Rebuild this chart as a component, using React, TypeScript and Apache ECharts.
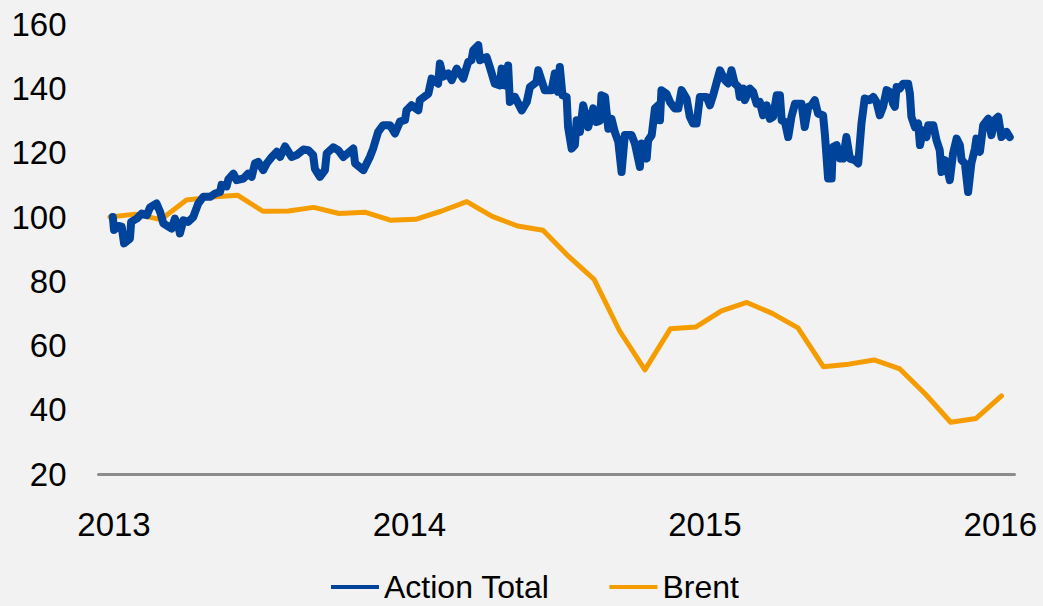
import React, { useEffect, useRef } from "react";
import * as echarts from "echarts";

const yearTicks = [2013, 2014, 2015, 2016];
const yTicks = [20, 40, 60, 80, 100, 120, 140, 160];

const seriesNames = ["Action Total", "Brent"];

// Action Total (index, base 100) - [decimal year, value]
const actionTotalYears = [
  2012.996, 2013.0, 2013.015, 2013.026, 2013.034, 2013.054, 2013.058, 2013.077, 2013.094, 2013.111,
  2013.122, 2013.144, 2013.156, 2013.167, 2013.184, 2013.195, 2013.206, 2013.218, 2013.223, 2013.235,
  2013.251, 2013.268, 2013.285, 2013.302, 2013.325, 2013.342, 2013.359, 2013.364, 2013.381, 2013.387,
  2013.404, 2013.415, 2013.438, 2013.454, 2013.466, 2013.477, 2013.488, 2013.505, 2013.517, 2013.534,
  2013.551, 2013.562, 2013.579, 2013.601, 2013.618, 2013.641, 2013.658, 2013.674, 2013.68, 2013.697,
  2013.714, 2013.72, 2013.742, 2013.759, 2013.776, 2013.81, 2013.816, 2013.844, 2013.866, 2013.877,
  2013.894, 2013.911, 2013.934, 2013.951, 2013.968, 2013.985, 2013.99, 2014.007, 2014.03, 2014.035,
  2014.064, 2014.075, 2014.097, 2014.103, 2014.114, 2014.131, 2014.143, 2014.16, 2014.182, 2014.199,
  2014.21, 2014.216, 2014.233, 2014.239, 2014.261, 2014.272, 2014.289, 2014.306, 2014.312, 2014.323,
  2014.334, 2014.34, 2014.357, 2014.38, 2014.397, 2014.408, 2014.43, 2014.436, 2014.458, 2014.481,
  2014.492, 2014.503, 2014.509, 2014.518, 2014.532, 2014.537, 2014.549, 2014.56, 2014.566, 2014.577,
  2014.588, 2014.605, 2014.622, 2014.633, 2014.645, 2014.65, 2014.662, 2014.673, 2014.684, 2014.695,
  2014.707, 2014.718, 2014.729, 2014.752, 2014.763, 2014.78, 2014.786, 2014.803, 2014.808, 2014.82,
  2014.831, 2014.842, 2014.848, 2014.853, 2014.87, 2014.882, 2014.898, 2014.91, 2014.921, 2014.938,
  2014.949, 2014.96, 2014.972, 2014.983, 2015.006, 2015.017, 2015.028, 2015.04, 2015.051, 2015.068,
  2015.079, 2015.09, 2015.101, 2015.113, 2015.118, 2015.13, 2015.135, 2015.152, 2015.163, 2015.175,
  2015.186, 2015.197, 2015.209, 2015.22, 2015.231, 2015.243, 2015.254, 2015.26, 2015.271, 2015.282,
  2015.293, 2015.305, 2015.327, 2015.338, 2015.35, 2015.361, 2015.372, 2015.383, 2015.4, 2015.406,
  2015.417, 2015.429, 2015.433, 2015.446, 2015.457, 2015.468, 2015.479, 2015.491, 2015.508, 2015.519,
  2015.53, 2015.541, 2015.558, 2015.57, 2015.581, 2015.592, 2015.603, 2015.615, 2015.626, 2015.637,
  2015.643, 2015.649, 2015.66, 2015.671, 2015.688, 2015.694, 2015.699, 2015.711, 2015.722, 2015.728,
  2015.739, 2015.75, 2015.756, 2015.773, 2015.784, 2015.795, 2015.801, 2015.812, 2015.823, 2015.829,
  2015.84, 2015.852, 2015.863, 2015.869, 2015.88, 2015.891, 2015.902, 2015.914, 2015.919, 2015.931,
  2015.942, 2015.959, 2015.97, 2015.981, 2015.993, 2016.004, 2016.021, 2016.032,
];
const actionTotalValues = [
  100, 96, 97.2, 97, 91.8, 93.3, 98.5, 99.5, 101.1, 100.6,
  103, 104.2, 101.6, 98, 97, 96.4, 99.5, 97, 94.9, 99,
  98.5, 100, 104.2, 106.3, 106.3, 107.3, 107.8, 110, 109.5, 111.7,
  113.5, 111.5, 112, 113.5, 112.5, 116.7, 117.2, 114.6, 116.7, 118.7,
  120.3, 118.7, 122, 118.7, 119.3, 121, 120.8, 119.3, 115, 112.5,
  114.6, 119.8, 121.7, 120.8, 118.7, 121.3, 116.7, 114.6, 118.7, 121.3,
  126.5, 128.6, 128.6, 126, 129.7, 130.2, 133.2, 134.8, 133.2, 136.4,
  138.4, 143.1, 141.5, 147.8, 143.7, 144.7, 142.6, 146.2, 143.1, 148.3,
  148.8, 151.9, 153.5, 148.8, 149.8, 146.7, 141.5, 141, 146.2, 141,
  147.2, 135.8, 137.4, 133.2, 135.8, 140.5, 142, 145.7, 139.5, 139.5,
  144.7, 139, 146.7, 137.9, 137.4, 128, 121.3, 122.4, 130.1, 126.5,
  134.8, 128, 133.8, 129.6, 130, 137.9, 137.4, 127.5, 130.6, 126.5,
  123.4, 114, 125.5, 125.5, 122.9, 115.6, 122.9, 118.2, 123.9, 125.5,
  133.8, 134.8, 130.1, 139.5, 138.4, 135.8, 133.8, 133.8, 139.5, 136.9,
  131.2, 129.1, 129.1, 137.4, 137.4, 134.8, 137.9, 142, 145.7, 142.6,
  141.6, 145.7, 141.6, 140.5, 137.4, 140, 136.4, 140, 139, 135.3,
  135.8, 131.7, 134.8, 130.6, 131.2, 137.9, 137.9, 130.1, 129.6, 124.9,
  131.2, 135.3, 135.3, 128, 134.3, 134.8, 136.4, 132.2, 131.7, 126,
  112, 112, 121.8, 122.4, 118.2, 118.2, 124.9, 118.2, 117.7, 116.7,
  129.1, 136.9, 136.4, 137.4, 135.8, 131.7, 134.3, 139.5, 139, 135.3,
  134.3, 140.5, 140, 141.5, 141.5, 138.4, 131.2, 128, 129.1, 122.4,
  127, 124.9, 128.6, 128.6, 123.9, 120.8, 114, 117.7, 114, 111.5,
  119.8, 124.4, 122.4, 117.7, 116.7, 107.8, 116.7, 121.3, 124.4, 120.3,
  128.6, 130.6, 125.5, 130.2, 131.2, 124.9, 126.5, 124.9,
];

// Brent (index, base 100), monthly
const brentYears = [
  2012.986, 2013.073, 2013.159, 2013.245, 2013.331, 2013.418, 2013.504, 2013.59, 2013.676, 2013.762,
  2013.849, 2013.935, 2014.021, 2014.107, 2014.194, 2014.28, 2014.366, 2014.452, 2014.538, 2014.625,
  2014.711, 2014.797, 2014.883, 2014.97, 2015.056, 2015.142, 2015.228, 2015.315, 2015.401, 2015.487,
  2015.573, 2015.66, 2015.746, 2015.832, 2015.918, 2016.004,
];
const brentValues = [
  100, 100.9, 99.2, 105.3, 106.2, 106.8, 101.8, 101.9, 103, 101.1,
  101.5, 99, 99.3, 101.8, 104.8, 100.2, 97.2, 95.9, 87.8, 80.6,
  64.6, 52.4, 65.2, 65.8, 70.8, 73.4, 70, 65.5, 53.4, 54.2,
  55.5, 52.7, 44.9, 36.1, 37.3, 44.3,
];

const FONT = "'Liberation Sans', Arial, sans-serif";

export default function App() {
  const ref = useRef<HTMLDivElement>(null);

  useEffect(() => {
    if (!ref.current) return;
    const chart = echarts.init(ref.current, undefined, { renderer: "svg" });
    const actionData = actionTotalYears.map((x, i) => [x, actionTotalValues[i]]);
    const brentData = brentYears.map((x, i) => [x, brentValues[i]]);
    chart.setOption({
      animation: false,
      backgroundColor: "#F2F2F2",
      textStyle: { fontFamily: FONT },
      grid: {
        left: 98.5,
        right: 28.5,
        top: 24.3,
        bottom: 132,
        containLabel: false,
        outerBoundsMode: "none",
      },
      legend: {
        data: seriesNames,
        left: 326,
        top: 566,
        icon: "rect",
        itemWidth: 48,
        itemHeight: 4,
        itemGap: 60,
        textStyle: { fontSize: 32, lineHeight: 32, color: "#000", fontFamily: FONT },
      },
      xAxis: {
        type: "value",
        min: 2012.9475,
        max: 2016.048,
        axisLine: { show: true, lineStyle: { color: "#8C8C8C", width: 3 } },
        axisTick: { show: false },
        splitLine: { show: false },
        axisLabel: {
          customValues: yearTicks,
          formatter: (v: number) => String(Math.round(v)),
          fontSize: 33,
          color: "#000",
          margin: 34,
          fontFamily: FONT,
        },
      },
      yAxis: {
        type: "value",
        min: 20,
        max: 160,
        interval: 20,
        axisLine: { show: false },
        axisTick: { show: false },
        splitLine: { show: false },
        axisLabel: {
          customValues: yTicks,
          fontSize: 33,
          color: "#000",
          margin: 32,
          fontFamily: FONT,
        },
      },
      series: [
        {
          name: seriesNames[0],
          type: "line",
          data: actionData,
          symbol: "none",
          z: 3,
          itemStyle: { color: "#00439A" },
          lineStyle: { color: "#00439A", width: 8, join: "round", cap: "round" },
        },
        {
          name: seriesNames[1],
          type: "line",
          data: brentData,
          symbol: "none",
          z: 2,
          itemStyle: { color: "#F59C00" },
          lineStyle: { color: "#F59C00", width: 5, join: "round", cap: "round" },
        },
      ],
    });
    return () => chart.dispose();
  }, []);

  return (
    <div
      ref={ref}
      style={{ position: "fixed", left: 0, top: 0, width: 1043, height: 606, background: "#F2F2F2" }}
    />
  );
}
